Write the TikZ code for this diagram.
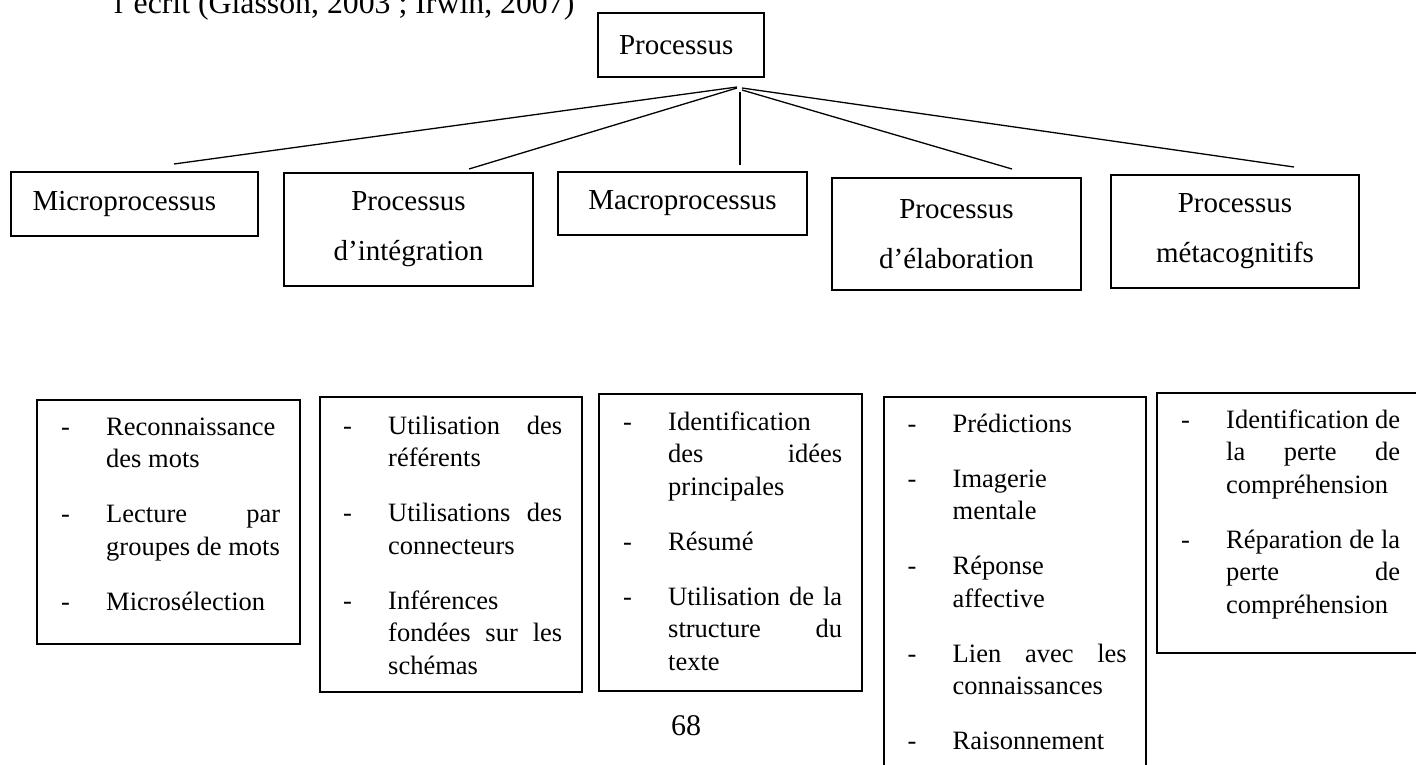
\documentclass[tikz,border=0pt]{standalone}
\usepackage{fontspec}
\setmainfont{Liberation Serif}

% column layout of the bullet lists
\newlength\colw
\setlength\colw{174pt}
\newcommand\dsh{\llap{\hbox to 45pt{-\hfil}}}
\newcommand\jl[1]{\hbox to \colw{#1}}
\newcommand\rl[1]{\hbox{#1}}
\newcommand\gap{\vskip 22.5pt}
\newcommand\listfont{\fontsize{26.5pt}{32.5pt}\selectfont}
\newcommand\boxfont{\fontsize{29pt}{50pt}\selectfont}
\newcommand\lst[1]{\vtop{\hsize=\colw\parindent=0pt #1}}

\tikzset{
  frame/.style={draw, line width=1.3pt, inner sep=0pt},
  boxtxt/.style={frame, font=\boxfont, align=center},
  lsttxt/.style={anchor=base west, inner sep=0pt, font=\listfont},
  link/.style={line width=1.3pt},
}

\begin{document}
\begin{tikzpicture}[x=1pt, y=-1pt]
\useasboundingbox (0,0) rectangle (1416,765);
\clip (0,0) rectangle (1416,765);

% caption line above the chart
\node[anchor=base west, inner sep=0pt, font=\fontsize{31.8pt}{38pt}\selectfont]
  (caption) at (114,13.5) {l’écrit (Glasson, 2003 ; Irwin, 2007)};

% root
\node[frame, font=\boxfont, minimum width=166pt, minimum height=64pt,
      text width=124pt, align=left, inner xsep=21pt] (root) at (681,45) {Processus};

% second level
\node[frame, font=\boxfont, minimum width=247pt, minimum height=64pt,
      text width=204pt, align=left, inner xsep=21.5pt] (micro) at (134.5,204) {Microprocessus};
\node[boxtxt, minimum width=249pt, minimum height=113pt] (integ) at (408.5,229.5) {Processus\\d’intégration};
\node[boxtxt, minimum width=249pt, minimum height=63pt] (macro) at (682.5,203.5) {Macroprocessus};
\node[boxtxt, minimum width=249pt, minimum height=112pt] (elab) at (956.5,234) {Processus\\d’élaboration};
\node[boxtxt, minimum width=248pt, minimum height=113pt] (meta) at (1235,231.5) {Processus\\métacognitifs};

% connector end points
\coordinate (h1) at (737,87);   \coordinate (e1) at (174,164);
\coordinate (h2) at (737,88);   \coordinate (e2) at (469,169);
\coordinate (h3) at (740,92);   \coordinate (e3) at (740,165);
\coordinate (h4) at (742,90);   \coordinate (e4) at (1012,169);
\coordinate (h5) at (742,88);   \coordinate (e5) at (1294,167);
\foreach \i in {1,...,5} \draw[link] (h\i) -- (e\i);

% third level frames
\node[frame, minimum width=263pt, minimum height=244pt] (b1) at (168.5,522) {};
\node[frame, minimum width=262pt, minimum height=295pt] (b2) at (451,544.5) {};
\node[frame, minimum width=263pt, minimum height=297pt] (b3) at (730.5,542.5) {};
\node[frame, minimum width=262pt, minimum height=393pt] (b4) at (1015,593.5) {};
\node[frame, minimum width=273pt, minimum height=260pt] (b5) at (1293.5,523) {};

% third level lists
\node[lsttxt] (t1) at (106,435) {\lst{%
  \rl{\dsh Reconnaissance}\rl{des mots}\gap
  \jl{\dsh Lecture par}\rl{groupes de mots}\gap
  \rl{\dsh Microsélection}}};
\node[lsttxt] (t2) at (388,434) {\lst{%
  \jl{\dsh Utilisation des}\rl{référents}\gap
  \jl{\dsh Utilisations des}\rl{connecteurs}\gap
  \rl{\dsh Inférences}\jl{fondées sur les}\rl{schémas}}};
\node[lsttxt] (t3) at (668,430) {\lst{%
  \rl{\dsh Identification}\jl{des idées}\rl{principales}\gap
  \rl{\dsh Résumé}\gap
  \jl{\dsh Utilisation de la}\jl{structure du}\rl{texte}}};
\node[lsttxt] (t4) at (952.5,432) {\lst{%
  \rl{\dsh Prédictions}\gap
  \rl{\dsh Imagerie}\rl{mentale}\gap
  \rl{\dsh Réponse}\rl{affective}\gap
  \jl{\dsh Lien avec les}\rl{connaissances}\gap
  \rl{\dsh Raisonnement}}};
\node[lsttxt] (t5) at (1226,428) {\lst{%
  \jl{\dsh Identification de}\jl{la perte de}\rl{compréhension}\gap
  \jl{\dsh Réparation de la}\jl{perte de}\rl{compréhension}}};

% page number
\node[anchor=base west, inner sep=0pt, font=\fontsize{30pt}{36pt}\selectfont] (page) at (671,735) {68};
\end{tikzpicture}
\end{document}
